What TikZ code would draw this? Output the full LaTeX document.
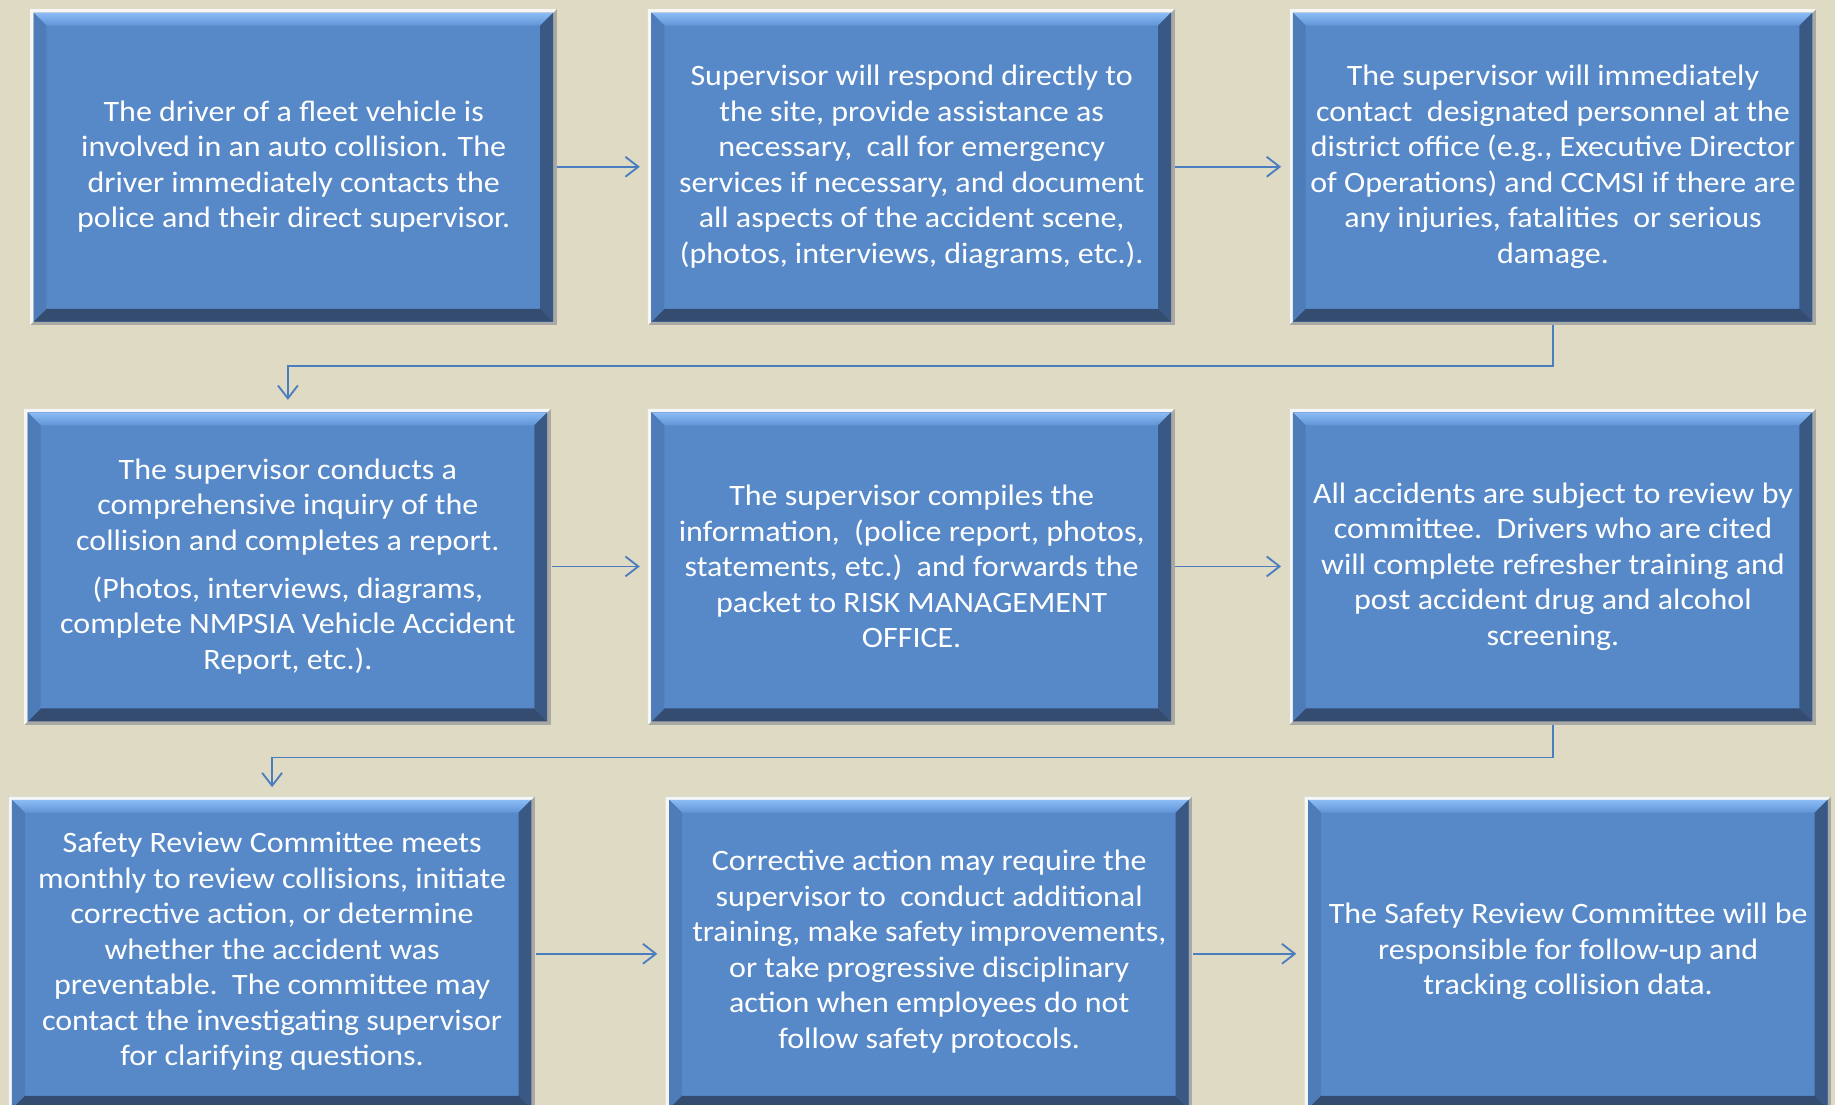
\documentclass[tikz,border=0pt]{standalone}
\usepackage{fontspec}
\setmainfont{Carlito}[FakeStretch=1.08]
\usetikzlibrary{arrows.meta,backgrounds}
\definecolor{bgtan}{RGB}{223,218,196}
\definecolor{boxblue}{RGB}{87,137,201}
\definecolor{bevtop}{RGB}{140,188,245}
\definecolor{bevtopin}{RGB}{96,148,214}
\definecolor{bevleft}{RGB}{78,124,184}
\definecolor{bevright}{RGB}{58,88,132}
\definecolor{bevbottom}{RGB}{52,76,112}
\definecolor{framelight}{RGB}{246,246,244}
\definecolor{framedark}{RGB}{168,168,164}
\definecolor{linkblue}{RGB}{74,126,191}
\tikzset{
 stepbox/.style={rectangle,minimum width=9cm,minimum height=5.4cm,inner sep=0pt,
  align=center,text=white,font=\fontsize{14.4}{17.25}\selectfont},
 link/.style={->,draw=linkblue,line width=.9pt,shorten >=.14cm}
}
\begin{document}
\begin{tikzpicture}[x=.02cm,y=-.02cm,>={Straight Barb[length=2.2mm,width=3.4mm]}]
\useasboundingbox (0,0) rectangle (1568,944);
\node[stepbox] (b1) at (251,142.5) {The driver of a fleet vehicle is\\involved in an auto collision. The\\driver immediately contacts the\\police and their direct supervisor.};
\node[stepbox] (b2) at (779,142.5) {Supervisor will respond directly to\\the site, provide assistance as\\necessary,\ \ call for emergency\\services if necessary, and document\\all aspects of the accident scene,\\(photos, interviews, diagrams, etc.).};
\node[stepbox] (b3) at (1327,142.5) {The supervisor will immediately\\contact\ \ designated personnel at the\\district office (e.g., Executive Director\\of Operations) and CCMSI if there are\\any injuries, fatalities\ \ or serious\\damage.};
\node[stepbox] (b4) at (246,484) {The supervisor conducts a\\comprehensive inquiry of the\\collision and completes a report.\\[.21cm](Photos, interviews, diagrams,\\complete NMPSIA Vehicle Accident\\Report, etc.).};
\node[stepbox] (b5) at (779,484) {The supervisor compiles the\\information,\ \ (police report, photos,\\statements, etc.)\ \ and forwards the\\packet to RISK MANAGEMENT\\OFFICE.};
\node[stepbox] (b6) at (1327,484) {All accidents are subject to review by\\committee.\ \ Drivers who are cited\\will complete refresher training and\\post accident drug and alcohol\\screening.};
\node[stepbox,text depth=.16cm] (b7) at (232.5,815) {Safety Review Committee meets\\monthly to review collisions, initiate\\corrective action, or determine\\whether the accident was\\preventable.\ \ The committee may\\contact the investigating supervisor\\for clarifying questions.};
\node[stepbox,text depth=.16cm] (b8) at (794,815) {Corrective action may require the\\supervisor to\ \ conduct additional\\training, make safety improvements,\\or take progressive disciplinary\\action when employees do not\\follow safety protocols.};
\node[stepbox,text depth=.16cm] (b9) at (1340,815) {The Safety Review Committee will be\\responsible for follow-up and\\tracking collision data.};
\begin{scope}[on background layer]
\fill[bgtan] (0,0) rectangle (1568,944);
\foreach \n in {b1,b2,b3,b4,b5,b6,b7,b8,b9}{
 \begin{scope}[shift={(\n.south west)},x=1cm,y=1cm]
  \fill[framedark] (0,0) rectangle (9,5.4);
  \fill[framelight] (0,0) -- (0,5.4) -- (9,5.4) -- (8.94,5.34) -- (.06,5.34) -- (.06,.06) -- cycle;
  \fill[boxblue] (.06,.06) rectangle (8.94,5.34);
  \shade[top color=bevtop,bottom color=bevtopin] (.06,5.34) -- (8.94,5.34) -- (8.72,5.12) -- (.28,5.12) -- cycle;
  \fill[bevright] (8.94,5.34) -- (8.94,.06) -- (8.72,.28) -- (8.72,5.12) -- cycle;
  \fill[bevbottom] (.06,.06) -- (8.94,.06) -- (8.72,.28) -- (.28,.28) -- cycle;
  \fill[bevleft] (.06,.06) -- (.06,5.34) -- (.28,5.12) -- (.28,.28) -- cycle;
 \end{scope}}
\end{scope}
\draw[link] (b1.east) -- (b2.west); \draw[link] (b2.east) -- (b3.west);
\draw[link] (b3.south) -- ++(0,35) -| (b4.north);
\draw[link] (b4.east) -- (b5.west); \draw[link] (b5.east) -- (b6.west);
\draw[link] (b6.south) -- ++(0,28) -| (b7.north);
\draw[link] (b7.east) -- (b8.west); \draw[link] (b8.east) -- (b9.west);
\end{tikzpicture}
\end{document}
